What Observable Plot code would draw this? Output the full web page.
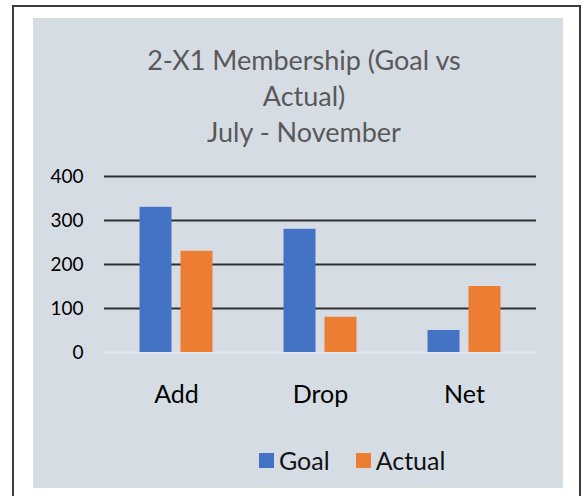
<!DOCTYPE html>
<html><head><meta charset="utf-8">
<script src="https://cdn.jsdelivr.net/npm/d3@7"></script>
<script src="https://cdn.jsdelivr.net/npm/@observablehq/plot@0.6"></script>
<style>
html,body{margin:0;padding:0;width:584px;height:496px;overflow:hidden;background:#fff;font-family:Lato,sans-serif;}
#frame{position:absolute;left:12px;top:5px;width:565px;height:560px;border:2px solid #3c3c3c;}
#panel{position:absolute;left:33px;top:18px;width:530px;height:470px;background:#d6dce4;}
#title{position:absolute;left:6px;top:24px;width:530px;text-align:center;color:#595959;font-size:27px;line-height:36px;}
#chart{position:absolute;left:0;top:132px;}
#legend{position:absolute;left:226px;top:424px;height:36px;display:flex;align-items:center;font-size:25px;color:#111;}
.sw{width:15px;height:15px;margin-right:5px;}
.item{display:flex;align-items:center;margin-right:26px;}
</style></head>
<body>
<div id="frame"></div>
<div id="panel">
  <div id="title">2-X1 Membership (Goal vs<br>Actual)<br>July - November</div>
  <div id="chart"></div>
  <div id="legend"></div>
</div>
<script>
const categories = ["Add", "Drop", "Net"];
const series = ["Goal", "Actual"];
const goal = [330, 280, 50];
const actual = [230, 80, 150];
const yTicks = [0, 100, 200, 300, 400];
const gridTicks = [100, 200, 300, 400];
const colors = ["#4472C4", "#ED7D31"];

const data = categories.flatMap((c, i) => [
  {category: c, series: "Goal", value: goal[i]},
  {category: c, series: "Actual", value: actual[i]}
]);

const chart = Plot.plot({
  width: 530, height: 262,
  marginLeft: 71, marginRight: 27, marginTop: 26, marginBottom: 60,
  style: {background: "transparent", fontFamily: "Lato, sans-serif", color: "#000"},
  fx: {domain: categories, padding: 0, label: null},
  x: {domain: series, paddingInner: 0.22, paddingOuter: 0.866, round: false, axis: null},
  y: {domain: [0, 400], axis: null, label: null},
  color: {domain: series, range: colors},
  marks: [
    Plot.ruleY(gridTicks, {stroke: "#2e2e2e", strokeWidth: 2}),
    Plot.ruleY([0], {stroke: "#e3e7ec", strokeWidth: 2}),
    Plot.barY(data, {fx: "category", x: "series", y: "value", fill: "series"}),
    Plot.axisY({ticks: yTicks, tickSize: 0, tickPadding: 21, fontSize: 19, fill: "#000", label: null}),
    Plot.axisFx({anchor: "bottom", tickSize: 0, tickPadding: 33, fontSize: 25, fill: "#000", label: null})
  ]
});
document.getElementById("chart").appendChild(chart);

const legend = document.getElementById("legend");
series.forEach((s, i) => {
  const item = document.createElement("div");
  item.className = "item";
  const sw = document.createElement("div");
  sw.className = "sw";
  sw.style.background = colors[i];
  const t = document.createElement("span");
  t.textContent = s;
  item.appendChild(sw); item.appendChild(t);
  legend.appendChild(item);
});
</script>
</body></html>
